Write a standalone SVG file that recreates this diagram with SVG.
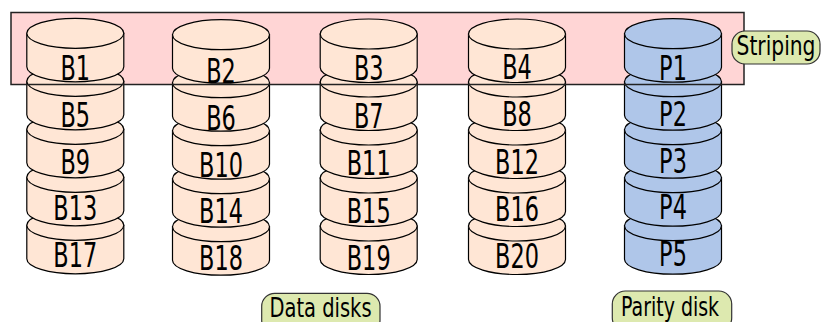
<svg xmlns="http://www.w3.org/2000/svg" width="822" height="322" viewBox="0 0 822 322">
<style>
.d{fill:#ffe6d5;stroke:#000;stroke-width:1.2}
.p{fill:#afc6e9;stroke:#000;stroke-width:1.2}
.t{font-family:"DejaVu Sans",sans-serif;font-size:33px;text-anchor:middle;fill:#000}
.lb{fill:#dde9af;stroke:#333;stroke-width:1.2}
.lt{font-family:"DejaVu Sans",sans-serif;font-size:26px;text-anchor:middle;fill:#000}
</style>
<defs>
<g id="cyl">
<path d="M-48.5,0 v33.5 a48.5,15 0 0 0 97,0 v-33.5 z"/>
<ellipse cx="0" cy="0" rx="48.5" ry="15"/>
</g>
</defs>
<rect x="11" y="12.5" width="733" height="72" fill="#ffd5d5" stroke="none"/>
<g id="col1">
<g id="B17"><use href="#cyl" class="d" x="75.3" y="225.3"/><text class="t" transform="translate(75.3,267) scale(0.68,1)">B17</text></g>
<g id="B13"><use href="#cyl" class="d" x="75.3" y="177.3"/><text class="t" transform="translate(75.3,220.3) scale(0.68,1)">B13</text></g>
<g id="B9"><use href="#cyl" class="d" x="75.3" y="129.3"/><text class="t" transform="translate(75.3,173.5) scale(0.68,1)">B9</text></g>
<g id="B5"><use href="#cyl" class="d" x="75.3" y="81.3"/><text class="t" transform="translate(75.3,126.8) scale(0.68,1)">B5</text></g>
<g id="B1"><use href="#cyl" class="d" x="75.3" y="33.3"/><text class="t" transform="translate(75.3,80) scale(0.68,1)">B1</text></g>
</g>
<g id="col2">
<g id="B18"><use href="#cyl" class="d" x="221" y="226.7"/><text class="t" transform="translate(221,270) scale(0.68,1)">B18</text></g>
<g id="B14"><use href="#cyl" class="d" x="221" y="178.7"/><text class="t" transform="translate(221,223.3) scale(0.68,1)">B14</text></g>
<g id="B10"><use href="#cyl" class="d" x="221" y="130.7"/><text class="t" transform="translate(221,176.5) scale(0.68,1)">B10</text></g>
<g id="B6"><use href="#cyl" class="d" x="221" y="82.7"/><text class="t" transform="translate(221,129.8) scale(0.68,1)">B6</text></g>
<g id="B2"><use href="#cyl" class="d" x="221" y="34.7"/><text class="t" transform="translate(221,83) scale(0.68,1)">B2</text></g>
</g>
<g id="col3">
<g id="B19"><use href="#cyl" class="d" x="368.7" y="226"/><text class="t" transform="translate(368.7,270) scale(0.68,1)">B19</text></g>
<g id="B15"><use href="#cyl" class="d" x="368.7" y="178"/><text class="t" transform="translate(368.7,222.5) scale(0.68,1)">B15</text></g>
<g id="B11"><use href="#cyl" class="d" x="368.7" y="130"/><text class="t" transform="translate(368.7,175) scale(0.68,1)">B11</text></g>
<g id="B7"><use href="#cyl" class="d" x="368.7" y="82"/><text class="t" transform="translate(368.7,127.5) scale(0.68,1)">B7</text></g>
<g id="B3"><use href="#cyl" class="d" x="368.7" y="34"/><text class="t" transform="translate(368.7,80) scale(0.68,1)">B3</text></g>
</g>
<g id="col4">
<g id="B20"><use href="#cyl" class="d" x="517" y="226"/><text class="t" transform="translate(517,268) scale(0.68,1)">B20</text></g>
<g id="B16"><use href="#cyl" class="d" x="517" y="178"/><text class="t" transform="translate(517,220.8) scale(0.68,1)">B16</text></g>
<g id="B12"><use href="#cyl" class="d" x="517" y="130"/><text class="t" transform="translate(517,173.5) scale(0.68,1)">B12</text></g>
<g id="B8"><use href="#cyl" class="d" x="517" y="82"/><text class="t" transform="translate(517,126.3) scale(0.68,1)">B8</text></g>
<g id="B4"><use href="#cyl" class="d" x="517" y="34"/><text class="t" transform="translate(517,79) scale(0.68,1)">B4</text></g>
</g>
<g id="col5">
<g id="P5"><use href="#cyl" class="p" x="673" y="225.7"/><text class="t" transform="translate(673,265.5) scale(0.68,1)">P5</text></g>
<g id="P4"><use href="#cyl" class="p" x="673" y="177.7"/><text class="t" transform="translate(673,219) scale(0.68,1)">P4</text></g>
<g id="P3"><use href="#cyl" class="p" x="673" y="129.7"/><text class="t" transform="translate(673,172.5) scale(0.68,1)">P3</text></g>
<g id="P2"><use href="#cyl" class="p" x="673" y="81.7"/><text class="t" transform="translate(673,126) scale(0.68,1)">P2</text></g>
<g id="P1"><use href="#cyl" class="p" x="673" y="33.7"/><text class="t" transform="translate(673,80) scale(0.68,1)">P1</text></g>
</g>
<rect x="11" y="12.5" width="733" height="72" fill="none" stroke="#222" stroke-width="1.5"/>
<g id="striping"><rect class="lb" x="732" y="31" width="88" height="33" rx="13"/><text class="lt" transform="translate(776,55) scale(0.78,1)">Striping</text></g>
<g id="datadisks"><rect class="lb" x="261.7" y="293.3" width="118.3" height="40" rx="13"/><text class="lt" transform="translate(320.5,316.5) scale(0.75,1)">Data disks</text></g>
<g id="paritydisk"><rect class="lb" x="612.3" y="291" width="119.4" height="40" rx="13"/><text class="lt" transform="translate(670,316) scale(0.73,1)">Parity disk</text></g>
</svg>
